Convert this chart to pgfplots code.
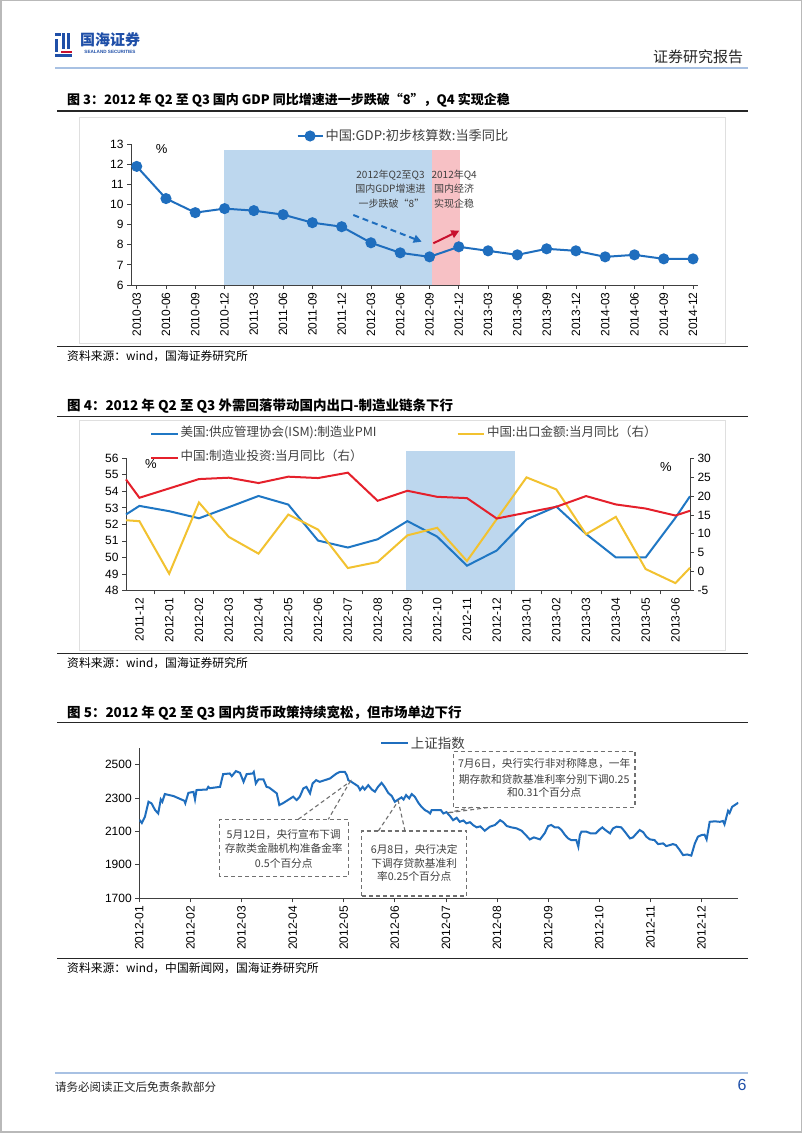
\documentclass[border=0pt]{standalone}
\usepackage{fontspec}
\setmainfont{Liberation Sans}
\newfontfamily\cjk{Noto Sans CJK SC}
\usepackage{pgfplots}
\pgfplotsset{compat=1.18}
\usetikzlibrary{arrows.meta}
\definecolor{gdpblue}{HTML}{1F6EBE}
\definecolor{shadeblue}{HTML}{BDD7EE}
\definecolor{shadepink}{HTML}{F7C1C5}
\definecolor{ismblue}{HTML}{1F77C4}
\definecolor{invred}{HTML}{E5202B}
\definecolor{expyellow}{HTML}{F2C230}
\definecolor{hdrblue}{HTML}{A8C1E3}
\definecolor{logoblue}{HTML}{1F4FA8}
\definecolor{txtgray}{HTML}{404040}
\definecolor{arrowred}{HTML}{C8102E}
\definecolor{boxgray}{HTML}{707070}
\pgfplotsset{
  pagechart/.style={
    scale only axis,
    anchor=south west,
    axis line style={black!75, line width=0.8pt},
    tick style={black!75, line width=0.8pt},
    tick align=outside,
    major tick length=4pt,
    minor tick length=4pt,
    ticklabel style={font=\fontsize{12}{12}\selectfont},
    /pgf/number format/assume math mode=true,
    /pgf/number format/1000 sep={},
    xticklabel style={rotate=90, anchor=east},
    axis x line*=bottom, axis y line*=left,
    legend style={draw=none, fill=none, font=\cjk\fontsize{12.5}{14}\selectfont\color{txtgray}, inner sep=0pt, outer sep=0pt},
    legend cell align=left,
  }
}
\begin{document}
\begin{tikzpicture}[x=1pt,y=1pt]
\useasboundingbox (0,0) rectangle (802,1133);
\fill[white] (0,0) rectangle (802,1133);
\draw[gray!55, line width=1.5pt] (0.75,0.75) rectangle (801.25,1132.25);
% header
\fill[logoblue] (55,1097) rectangle (61,1100);
\fill[logoblue] (55,1081) rectangle (58,1094);
\fill[logoblue] (62,1084) rectangle (65,1100);
\fill[logoblue] (67,1084) rectangle (70,1100);
\fill[arrowred] (61,1079.5) rectangle (72,1082);
\fill[logoblue] (55,1076) rectangle (72,1078.5);
\node[text=logoblue, font=\cjk\bfseries\fontsize{15}{15}\selectfont, inner sep=0pt] at (110,1093) {国海证券};
\node[text=logoblue, font=\bfseries\fontsize{4.6}{5}\selectfont, inner sep=0pt] at (110,1081.5) {SEALAND SECURITIES};
\node[text=black!85, font=\cjk\fontsize{15}{15}\selectfont, inner sep=0pt] at (698,1076) {证券研究报告};
\draw[hdrblue, line width=2pt] (55,1065) -- (748,1065);
% footer
\draw[hdrblue, line width=1.2pt] (55,60) -- (748,60);
\node[anchor=west, text=black!85, font=\cjk\fontsize{11.5}{12}\selectfont, inner sep=0pt] at (55,46) {请务必阅读正文后免责条款部分};
\node[text=logoblue, font=\fontsize{16}{16}\selectfont, inner sep=0pt] at (742,48) {6};

% ================= chart 1 =================
\node[anchor=west, font=\cjk\bfseries\fontsize{13}{14}\selectfont, inner sep=0pt] at (67,1033) {图 3：2012 年 Q2 至 Q3 国内 GDP 同比增速进一步跌破“8”，Q4 实现企稳};
\draw[black!85, line width=1.2pt] (57,1022) -- (748,1022);
\draw[gray!25, line width=0.8pt] (79,790) rectangle (725,1016);
\draw[black!85, line width=1.2pt] (57,786.5) -- (748,786.5);
\node[anchor=west, font=\cjk\fontsize{11.8}{13}\selectfont, inner sep=0pt] at (67,777) {资料来源：wind，国海证券研究所};

\begin{axis}[pagechart, at={(131pt,848pt)}, width=567pt, height=140.7pt,
  xmin=-0.195, xmax=19.17, ymin=6, ymax=13, ytick={6,...,13},
  xtick={0,...,19},
  xticklabels={2010-03,2010-06,2010-09,2010-12,2011-03,2011-06,2011-09,2011-12,2012-03,2012-06,2012-09,2012-12,2013-03,2013-06,2013-09,2013-12,2014-03,2014-06,2014-09,2014-12},
  clip=false,
  legend image code/.code={\draw[mark repeat=2,mark phase=2] plot coordinates {(0pt,0pt) (12.5pt,0pt) (25pt,0pt)};},
  legend style={at={(0.292,1.059)}, anchor=west, font=\cjk\fontsize{13.2}{14}\selectfont\color{txtgray}}]
\fill[shadeblue] (axis cs:2.99,6) rectangle (axis cs:10.07,12.72);
\fill[shadepink] (axis cs:10.07,6) rectangle (axis cs:11.05,12.72);
\addplot[gdpblue, line width=2pt, mark=*, mark size=4.5pt] coordinates {
(0,11.9) (1,10.3) (2,9.6) (3,9.8) (4,9.7) (5,9.5) (6,9.1) (7,8.9) (8,8.1) (9,7.6)
(10,7.4) (11,7.9) (12,7.7) (13,7.5) (14,7.8) (15,7.7) (16,7.4) (17,7.5) (18,7.3) (19,7.3)};
\addlegendentry{中国:GDP:初步核算数:当季同比}
\end{axis}
\node[font=\fontsize{13}{13}\selectfont, inner sep=0pt] at (161.7,984) {\%};
\begin{scope}[font=\cjk\fontsize{10}{10}\selectfont, text=txtgray]
\node[inner sep=0pt] at (390.5,958) {2012年Q2至Q3};
\node[inner sep=0pt] at (390.5,944) {国内GDP增速进};
\node[inner sep=0pt] at (391.5,929.7) {一步跌破“8”};
\node[inner sep=0pt] at (454.2,958) {2012年Q4};
\node[inner sep=0pt] at (454.2,944) {国内经济};
\node[inner sep=0pt] at (454.2,929.7) {实现企稳};
\end{scope}
\draw[gdpblue, line width=2pt, dash pattern=on 6pt off 4pt, -{Triangle[length=8pt,width=8pt]}] (353.3,918) -- (421.7,891.3);
\draw[arrowred, line width=2pt, -{Triangle[length=8pt,width=8pt]}] (433.3,889.7) -- (459.3,902.3);

% ================= chart 2 =================
\node[anchor=west, font=\cjk\bfseries\fontsize{13.5}{14}\selectfont, inner sep=0pt] at (67,727) {图 4：2012 年 Q2 至 Q3 外需回落带动国内出口-制造业链条下行};
\draw[black!85, line width=1.2pt] (57,716.3) -- (748,716.3);
\draw[gray!25, line width=0.8pt] (79,483) rectangle (725,712.3);
\draw[black!85, line width=1.2pt] (57,479.7) -- (748,479.7);
\node[anchor=west, font=\cjk\fontsize{11.8}{13}\selectfont, inner sep=0pt] at (67,469.7) {资料来源：wind，国海证券研究所};

\begin{axis}[pagechart, at={(126pt,542.5pt)}, width=564pt, height=132.2pt,
  xmin=-0.45, xmax=18.49, ymin=48, ymax=56, ytick={48,...,56},
  xtick={0,...,18},
  xticklabels={2011-12,2012-01,2012-02,2012-03,2012-04,2012-05,2012-06,2012-07,2012-08,2012-09,2012-10,2012-11,2012-12,2013-01,2013-02,2013-03,2013-04,2013-05,2013-06},
  every major x tick/.append style={draw=none},
  minor xtick={0.5,1.5,...,17.5},
  clip=false,
  legend image code/.code={\draw plot coordinates {(0pt,0pt) (26.7pt,0pt)};},
  legend style={at={(0.0426,1.246)}, anchor=north west, row sep=8pt, nodes={text height=9pt, text depth=3pt}}]
\fill[shadeblue] (axis cs:8.96,48) rectangle (axis cs:12.62,56.44);
\addplot[ismblue, line width=2pt] coordinates {
(-0.45,52.6) (0,53.12) (1,52.8) (2,52.37) (3,53.04) (4,53.72) (5,53.2) (6,51.02) (7,50.6) (8,51.1)
(9,52.2) (10,51.26) (11,49.5) (12,50.42) (13,52.3) (14,53.08) (15,51.42) (16,50.0) (17,50.0) (18,52.4) (18.49,53.7)};
\addlegendentry{美国:供应管理协会(ISM):制造业PMI}
\addlegendimage{invred, line width=2pt}
\addlegendentry{中国:制造业投资:当月同比（右）}
\end{axis}
\begin{axis}[pagechart, at={(126pt,542.5pt)}, width=564pt, height=132.2pt,
  axis x line=none, axis y line*=right,
  xmin=-0.45, xmax=18.49, ymin=-5, ymax=30, ytick={-5,0,...,30},
  clip=false,
  legend image code/.code={\draw plot coordinates {(0pt,0pt) (26.7pt,0pt)};},
  legend style={at={(0.586,1.246)}, anchor=north west, nodes={text height=9pt, text depth=3pt}}]
\addplot[expyellow, line width=2pt] coordinates {
(-0.45,13.6) (0,13.35) (1,-0.56) (2,18.3) (3,9.2) (4,4.76) (5,15.1) (6,11.13) (7,0.95) (8,2.54)
(9,9.6) (10,11.6) (11,2.8) (12,13.9) (13,24.95) (14,21.76) (15,9.9) (16,14.5) (17,0.68) (18,-3.04) (18.49,1.0)};
\addlegendentry{中国:出口金额:当月同比（右）}
\addplot[invred, line width=2pt, forget plot] coordinates {
(-0.45,24.4) (0,19.55) (2,24.5) (3,24.86) (4,23.45) (5,25.13) (6,24.77) (7,26.19) (8,18.75)
(9,21.4) (10,19.8) (11,19.46) (12,14.06) (14,17.16) (15,20.0) (16,17.78) (17,16.7) (18,14.85) (18.49,16.1)};
\end{axis}
\node[font=\fontsize{13}{13}\selectfont, inner sep=0pt] at (151,669) {\%};
\node[font=\fontsize{13}{13}\selectfont, inner sep=0pt] at (666,665.7) {\%};

% ================= chart 3 =================
\node[anchor=west, font=\cjk\bfseries\fontsize{13.5}{14}\selectfont, inner sep=0pt] at (67,419.7) {图 5：2012 年 Q2 至 Q3 国内货币政策持续宽松，但市场单边下行};
\draw[black!85, line width=1.2pt] (57,410.3) -- (748,410.3);
\draw[black!85, line width=1.2pt] (57,174.7) -- (748,174.7);
\node[anchor=west, font=\cjk\fontsize{11.8}{13}\selectfont, inner sep=0pt] at (67,164.7) {资料来源：wind，中国新闻网，国海证券研究所};

\begin{axis}[pagechart, at={(139.3pt,234.7pt)}, width=599pt, height=150.6pt,
  xmin=0, xmax=11.72, ymin=1700, ymax=2600, ytick={1700,1900,...,2500},
  xtick={0,...,11},
  xticklabels={2012-01,2012-02,2012-03,2012-04,2012-05,2012-06,2012-07,2012-08,2012-09,2012-10,2012-11,2012-12},
  legend image code/.code={\draw plot coordinates {(0pt,0pt) (26.7pt,0pt)};},
  legend style={at={(0.402,1.029)}, anchor=west, font=\cjk\fontsize{13.5}{14}\selectfont\color{txtgray}}]
\addplot[gdpblue, line width=2pt] coordinates {
(0.00,2170) (0.05,2150) (0.11,2187) (0.18,2277) (0.24,2267) (0.31,2227) (0.37,2207) (0.42,2291) (0.45,2277) (0.50,2323)
(0.67,2311) (0.88,2283) (0.90,2268) (0.96,2330) (1.06,2336) (1.09,2291) (1.12,2347) (1.32,2350) (1.35,2366) (1.38,2358)
(1.58,2366) (1.64,2442) (1.77,2446) (1.81,2430) (1.89,2460) (1.97,2450) (2.04,2396) (2.10,2442) (2.22,2446) (2.24,2455)
(2.28,2386) (2.33,2410) (2.43,2410) (2.49,2366) (2.54,2362) (2.69,2327) (2.74,2257) (2.82,2270) (3.01,2307) (3.08,2287)
(3.14,2307) (3.21,2357) (3.27,2366) (3.34,2327) (3.39,2386) (3.46,2406) (3.53,2396) (3.63,2406) (3.73,2416) (3.86,2446)
(3.93,2456) (4.02,2456) (4.06,2436) (4.09,2406) (4.15,2396) (4.22,2382) (4.28,2370) (4.32,2347) (4.37,2366) (4.41,2350)
(4.48,2376) (4.55,2350) (4.61,2337) (4.67,2366) (4.74,2390) (4.80,2366) (4.87,2330) (4.94,2311) (5.00,2277) (5.07,2291)
(5.13,2303) (5.17,2290) (5.22,2317) (5.28,2297) (5.33,2323) (5.39,2307) (5.46,2271) (5.52,2247) (5.59,2227) (5.65,2217)
(5.69,2207) (5.72,2227) (5.85,2227) (5.90,2227) (5.95,2207) (6.01,2215) (6.08,2191) (6.14,2167) (6.21,2181) (6.27,2157)
(6.34,2165) (6.40,2148) (6.47,2155) (6.53,2138) (6.60,2124) (6.67,2130) (6.76,2104) (6.86,2128) (6.96,2138) (7.06,2167)
(7.12,2155) (7.19,2132) (7.28,2124) (7.38,2118) (7.48,2104) (7.58,2072) (7.64,2052) (7.72,2064) (7.84,2052) (7.93,2088)
(8.00,2132) (8.06,2138) (8.13,2124) (8.20,2124) (8.26,2108) (8.33,2078) (8.39,2058) (8.45,2048) (8.55,2048) (8.59,2008)
(8.62,2078) (8.65,2098) (8.75,2098) (8.83,2088) (8.93,2088) (9.01,2112) (9.06,2124) (9.11,2110) (9.21,2088) (9.27,2118)
(9.34,2128) (9.43,2124) (9.50,2098) (9.60,2058) (9.66,2064) (9.73,2088) (9.79,2108) (9.86,2095) (9.92,2068) (9.99,2052)
(10.08,2048) (10.15,2024) (10.25,2028) (10.31,2012) (10.38,2018) (10.44,2024) (10.50,2018) (10.57,1990) (10.64,1958) (10.72,1962)
(10.80,1955) (10.87,2028) (10.93,2068) (11.00,2078) (11.06,2080) (11.10,2052) (11.16,2157) (11.26,2160) (11.36,2157) (11.42,2162)
(11.45,2142) (11.52,2223) (11.55,2210) (11.60,2247) (11.72,2271)};
\addlegendentry{上证指数}
\end{axis}
% annotations chart 3
\begin{scope}[boxgray, line width=1.1pt, dash pattern=on 4pt off 3pt]
\draw (219.3,256.3) rectangle (348.3,313.7);
\draw (298.3,313.7) -- (350,351.3) -- (328.3,313.7);
\draw (361.7,237) rectangle (466.7,302);
\draw (378.3,302) -- (398.3,332) -- (405,302);
\draw (453.3,325.7) rectangle (635,381.3);
\draw (472,325.7) -- (447,320) -- (490,325.7);
\end{scope}
\begin{scope}[font=\cjk\fontsize{10.7}{11}\selectfont, text=txtgray]
\node[inner sep=0pt] at (283.8,298) {5月12日，央行宣布下调};
\node[inner sep=0pt] at (283.8,284.7) {存款类金融机构准备金率};
\node[inner sep=0pt] at (283.8,269.7) {0.5个百分点};
\node[inner sep=0pt] at (414.2,283) {6月8日，央行决定};
\node[inner sep=0pt] at (414.2,269.7) {下调存贷款基准利};
\node[inner sep=0pt] at (414.2,256.3) {率0.25个百分点};
\node[inner sep=0pt] at (544.2,369.7) {7月6日，央行实行非对称降息，一年};
\node[inner sep=0pt] at (544.2,354) {期存款和贷款基准利率分别下调0.25};
\node[inner sep=0pt] at (544.2,340.7) {和0.31个百分点};
\end{scope}
\end{tikzpicture}
\end{document}
